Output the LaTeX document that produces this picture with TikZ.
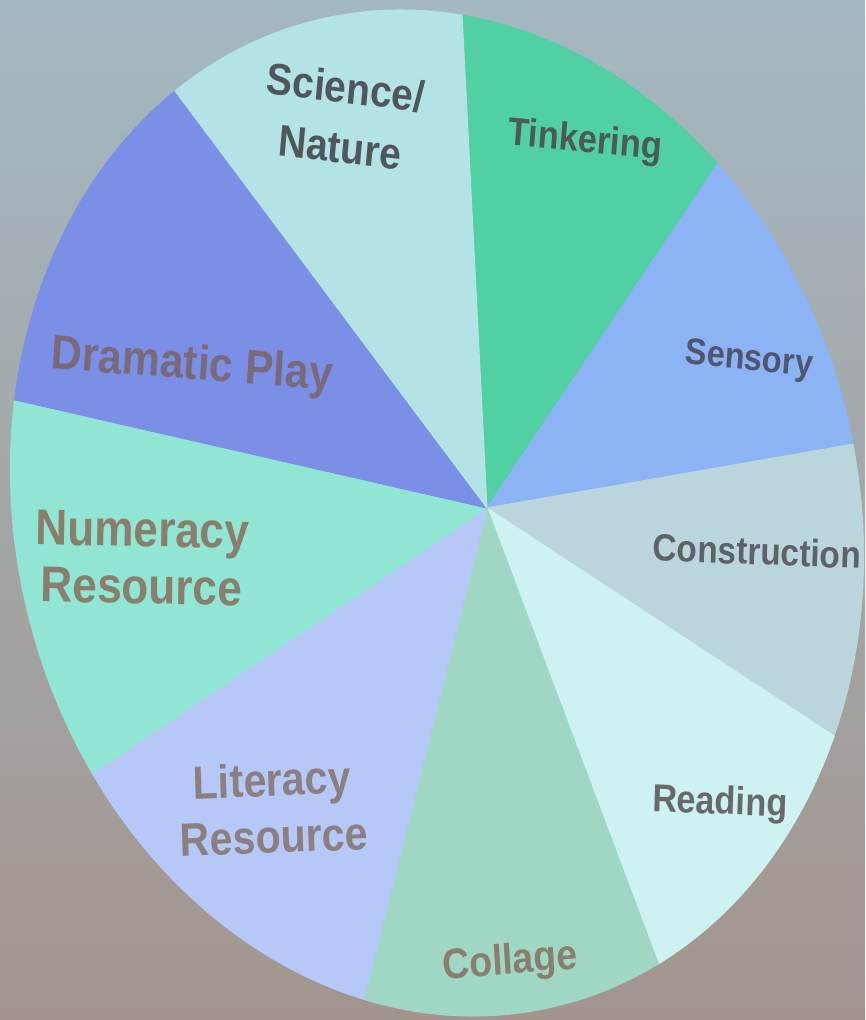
\documentclass[tikz,border=0pt]{standalone}
\usepackage{fontspec}
\setmainfont{Liberation Sans}
\newcommand\taille[2]{\fontsize{#1}{#2}\selectfont\bfseries}
\definecolor{fondhaut}{HTML}{A4B8C1}
\definecolor{fondmilieu}{HTML}{959B9D}
\definecolor{fondbas}{HTML}{A3958E}
\definecolor{cscience}{HTML}{B4E3E5}
\definecolor{ctinker}{HTML}{50D0A3}
\definecolor{csensory}{HTML}{8CB3F3}
\definecolor{cconstr}{HTML}{BAD6DC}
\definecolor{creading}{HTML}{CEF2F2}
\definecolor{ccollage}{HTML}{9FD6C4}
\definecolor{cliteracy}{HTML}{B5C8F7}
\definecolor{cnumeracy}{HTML}{90E6D2}
\definecolor{cdrama}{HTML}{7C8FE6}
\definecolor{tsombre}{HTML}{4F575B}
\definecolor{tvert}{HTML}{4B5A52}
\definecolor{tbleu}{HTML}{4F5670}
\definecolor{tgris}{HTML}{5E6266}
\definecolor{tgrisclair}{HTML}{68696A}
\definecolor{tbrun}{HTML}{8A7F6E}
\definecolor{tmauve}{HTML}{8C7F80}
\definecolor{tprune}{HTML}{786A7A}

\begin{document}
\begin{tikzpicture}[lbl/.style={align=center,inner sep=0pt,xscale=.88}]
\useasboundingbox (0,0) rectangle (8.65,10.2);
\clip (0,0) rectangle (8.65,10.2);
\shade[top color=fondhaut,middle color=fondmilieu,bottom color=fondbas] (0,0) rectangle (8.65,10.2);
\coordinate (c) at (4.87,5.12);
\coordinate (e) at (4.37,5.07);
\begin{scope}
\clip[rotate around={13.7:(e)}] (e) ellipse[x radius=4.217,y radius=5.079];
\foreach \a/\b/\coul in {56.2/92.9/ctinker,9.9/56.2/csensory,-33.3/9.9/cconstr,
  -69.4/-33.3/creading,-104.1/-69.4/ccollage,-146.1/-104.1/cliteracy,
  167.1/213.9/cnumeracy,126.8/167.1/cdrama,92.9/126.8/cscience}{
\path[fill=\coul,draw=\coul,line width=.3pt] (c) -- +(\a:8) -- +(\b:8) -- cycle;}
\end{scope}
\node[lbl,text=tsombre,rotate=-6,font=\taille{12.6}{17}] (science) at (3.43,9.03) {Science/\\Nature};
\node[lbl,text=tvert,rotate=-5,font=\taille{11.1}{14}] (tinker) at (5.85,8.78) {Tinkering};
\node[lbl,text=tbleu,rotate=-5,font=\taille{10.5}{13}] (sensory) at (7.49,6.59) {Sensory};
\node[lbl,text=tgris,rotate=-2,font=\taille{10.8}{13}] (constr) at (7.57,4.69) {Construction};
\node[lbl,text=tgrisclair,rotate=-2,font=\taille{11.1}{14}] (reading) at (7.20,2.16) {Reading};
\node[lbl,text=tbrun,rotate=4,font=\taille{12.1}{15}] (collage) at (5.10,0.57) {Collage};
\node[lbl,text=tmauve,rotate=2,font=\taille{13.3}{16.2}] (literacy) at (2.73,2.12) {Literacy\\Resource};
\node[lbl,text=tbrun,rotate=-1,font=\taille{14.3}{16.2}] (numeracy) at (1.42,4.62) {Numeracy\\Resource};
\node[lbl,text=tprune,rotate=-4,font=\taille{13.8}{17}] (drama) at (1.92,6.53) {Dramatic Play};
\end{tikzpicture}
\end{document}
